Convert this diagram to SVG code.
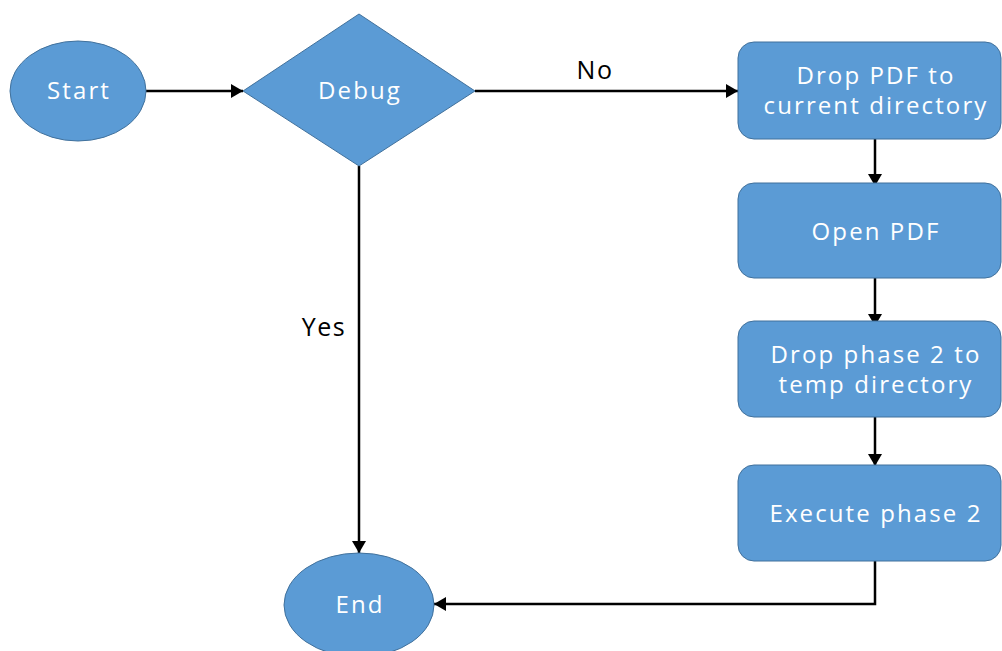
<svg xmlns="http://www.w3.org/2000/svg" width="1002" height="651" viewBox="0 0 1002 651">
  <defs>
    <marker id="arrow" markerWidth="12" markerHeight="14" refX="12" refY="7" orient="auto" markerUnits="userSpaceOnUse">
      <path d="M0,0 L12,7 L0,14 Z" fill="#000"/>
    </marker>
    <style>
      .shape { fill: #5B9BD5; stroke: #41719C; stroke-width: 1; }
      .label { fill: #fff; font-family: "Open Sans", "Noto Sans", sans-serif; font-size: 24px; letter-spacing: 2.1px; text-anchor: middle; }
      .edge { fill: none; stroke: #000; stroke-width: 2.5; }
      .edge-label { fill: #000; font-family: "Open Sans", "Noto Sans", sans-serif; font-size: 25px; letter-spacing: 1.5px; text-anchor: middle; }
    </style>
  </defs>
  <rect width="1002" height="651" fill="#fff"/>

  <g id="connectors">
    <line class="edge" x1="146" y1="91" x2="243" y2="91" marker-end="url(#arrow)"/>
    <line class="edge" x1="475" y1="91" x2="738" y2="91" marker-end="url(#arrow)"/>
    <text class="edge-label" x="595" y="79">No</text>
    <line class="edge" x1="359" y1="166" x2="359" y2="553" marker-end="url(#arrow)"/>
    <text class="edge-label" x="324" y="336">Yes</text>
    <line class="edge" x1="875" y1="139" x2="875" y2="186" marker-end="url(#arrow)"/>
    <line class="edge" x1="875" y1="278" x2="875" y2="326" marker-end="url(#arrow)"/>
    <line class="edge" x1="875" y1="417" x2="875" y2="466" marker-end="url(#arrow)"/>
    <polyline class="edge" points="875,561 875,604 434,604" marker-end="url(#arrow)"/>
  </g>

  <g id="start">
    <ellipse class="shape" cx="78" cy="91" rx="68" ry="50"/>
    <text class="label" x="79" y="99">Start</text>
  </g>

  <g id="debug">
    <polygon class="shape" points="243,91 359,14 475,91 359,166"/>
    <text class="label" x="360" y="99">Debug</text>
  </g>

  <g id="drop-pdf">
    <rect class="shape" x="738" y="42" width="263" height="97" rx="16"/>
    <text class="label" x="876" y="84">Drop PDF to</text>
    <text class="label" x="876" y="114">current directory</text>
  </g>

  <g id="open-pdf">
    <rect class="shape" x="738" y="183" width="263" height="95" rx="16"/>
    <text class="label" x="876" y="240">Open PDF</text>
  </g>

  <g id="drop-phase2">
    <rect class="shape" x="738" y="321" width="263" height="96" rx="16"/>
    <text class="label" x="876" y="363">Drop phase 2 to</text>
    <text class="label" x="876" y="393">temp directory</text>
  </g>

  <g id="execute-phase2">
    <rect class="shape" x="738" y="465" width="263" height="96" rx="16"/>
    <text class="label" x="876" y="522">Execute phase 2</text>
  </g>

  <g id="end">
    <ellipse class="shape" cx="359" cy="605" rx="75" ry="52"/>
    <text class="label" x="360" y="613">End</text>
  </g>
</svg>
